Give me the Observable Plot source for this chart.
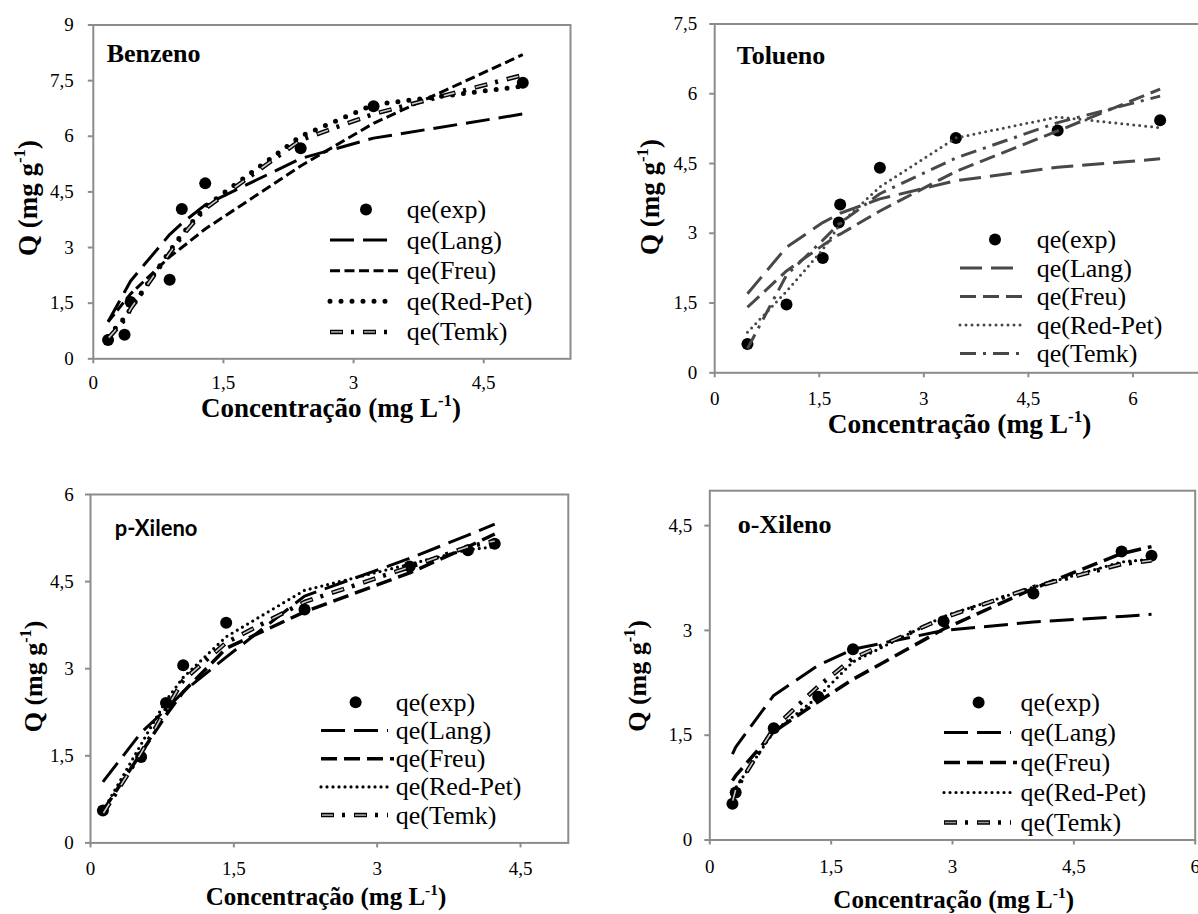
<!DOCTYPE html>
<html><head><meta charset="utf-8">
<script src="https://cdn.jsdelivr.net/npm/d3@7"></script>
<script src="https://cdn.jsdelivr.net/npm/@observablehq/plot@0.6"></script>
<style>
html,body{margin:0;padding:0;background:#fff;overflow:hidden;}
#root{position:relative;width:1198px;height:914px;overflow:hidden;background:#fff;}
#overlay{position:absolute;left:0;top:0;pointer-events:none;}
</style></head><body><div id="root"></div>
<script>
// ---------- DATA ----------
const seriesNames = ["qe(exp)", "qe(Lang)", "qe(Freu)", "qe(Red-Pet)", "qe(Temk)"];

// Benzeno
const bzC      = [0.17, 0.36, 0.43, 0.88, 1.02, 1.29, 2.39, 3.23, 4.95];
const bzExp    = [0.51, 0.65, 1.53, 2.13, 4.04, 4.73, 5.68, 6.81, 7.44];
const bzLang   = [1.0, 1.8, 2.1, 3.35, 3.65, 4.15, 5.4, 5.95, 6.6];
const bzFreu   = [1.0, 1.55, 1.75, 2.75, 3.0, 3.5, 5.2, 6.35, 8.2];
const bzRedPet = [0.6, 1.1, 1.35, 2.9, 3.35, 4.1, 6.0, 6.85, 7.35];
const bzTemk   = [0.55, 1.05, 1.35, 2.85, 3.3, 4.05, 5.9, 6.6, 7.65];

// Tolueno
const tlC      = [0.47, 1.03, 1.55, 1.78, 1.80, 2.37, 3.46, 4.92, 6.39];
const tlExp    = [0.62, 1.47, 2.47, 3.23, 3.62, 4.41, 5.05, 5.21, 5.43];
const tlLang   = [1.70, 2.70, 3.23, 3.41, 3.43, 3.74, 4.13, 4.42, 4.60];
const tlFreu   = [1.41, 2.19, 2.74, 2.97, 2.98, 3.48, 4.33, 5.2, 6.1];
const tlRedPet = [0.87, 1.75, 2.65, 3.15, 3.2, 4.0, 5.05, 5.5, 5.27];
const tlTemk   = [0.52, 2.1, 2.85, 3.2, 3.22, 3.85, 4.62, 5.38, 5.95];

// p-Xileno
const pxC      = [0.13, 0.53, 0.79, 0.97, 1.42, 2.24, 3.34, 3.95, 4.23];
const pxExp    = [0.56, 1.48, 2.41, 3.06, 3.79, 4.02, 4.76, 5.04, 5.15];
const pxLang   = [1.05, 1.9, 2.3, 2.6, 3.2, 4.25, 4.9, 5.3, 5.49];
const pxFreu   = [0.55, 1.55, 2.2, 2.6, 3.35, 3.98, 4.65, 5.1, 5.32];
const pxRedPet = [0.55, 1.7, 2.45, 2.85, 3.55, 4.35, 4.8, 5.05, 5.1];
const pxTemk   = [0.5, 1.55, 2.3, 2.8, 3.45, 4.15, 4.75, 5.1, 5.2];

// o-Xileno
const oxC      = [0.28, 0.32, 0.79, 1.34, 1.77, 2.89, 4.0, 5.09, 5.46];
const oxExp    = [0.52, 0.68, 1.60, 2.05, 2.73, 3.13, 3.53, 4.13, 4.07];
const oxLang   = [1.23, 1.33, 2.07, 2.5, 2.73, 3.0, 3.12, 3.2, 3.23];
const oxFreu   = [0.85, 0.92, 1.55, 1.98, 2.3, 3.02, 3.6, 4.1, 4.2];
const oxRedPet = [0.6, 0.75, 1.55, 2.05, 2.55, 3.2, 3.62, 3.98, 4.02];
const oxTemk   = [0.55, 0.72, 1.6, 2.2, 2.6, 3.18, 3.62, 3.95, 4.0];

// ticks
const bzXTicks = [0, 1.5, 3, 4.5];
const bzYTicks = [0, 1.5, 3, 4.5, 6, 7.5, 9];
const tlXTicks = [0, 1.5, 3, 4.5, 6];
const tlYTicks = [0, 1.5, 3, 4.5, 6, 7.5];
const pxXTicks = [0, 1.5, 3, 4.5];
const pxYTicks = [0, 1.5, 3, 4.5, 6];
const oxXTicks = [0, 1.5, 3, 4.5, 6];
const oxYTicks = [0, 1.5, 3, 4.5];

// ---------- STYLES ----------
const GRAY = "#8c8c8c";
const SERIF = "'Liberation Serif', 'Times New Roman', serif";
const fmt = d => String(d).replace(".", ",");

function blackStyles(kind) {
  if (kind === "bz") return [
    {stroke:"#000", w:3, dash:"24,9"},
    {stroke:"#000", w:3, dash:"10,4.5"},
    {stroke:"#000", w:5, dash:"0,11", cap:"round"},
    {stroke:"#000", w:4.5, dash:"13,8,3,9", inner:{stroke:"#c8c8c8", w:1.6, dash:"11,22", off:-1}}
  ];
  return [
    {stroke:"#000", w:3, dash:"24,9"},
    {stroke:"#000", w:3.5, dash:"16,7"},
    {stroke:"#000", w:3.2, dash:"0,6", cap:"round"},
    {stroke:"#000", w:4.5, dash:"13,8,3,9", inner:{stroke:"#c8c8c8", w:1.6, dash:"11,22", off:-1}}
  ];
}
const grayStyles = [
  {stroke:"#484848", w:3, dash:"22,9"},
  {stroke:"#484848", w:3, dash:"16,7"},
  {stroke:"#484848", w:3, dash:"0,6", cap:"round"},
  {stroke:"#484848", w:3, dash:"16,7,3,7"}
];

const root = document.getElementById("root");
const rows = (C, Q) => C.map((c, i) => ({c, q: Q[i]}));

function lineMarks(data, st) {
  const out = [Plot.line(data, {x:"c", y:"q", stroke: st.stroke, strokeWidth: st.w,
    strokeDasharray: st.dash, strokeLinecap: st.cap || "butt", strokeLinejoin: "round"})];
  if (st.inner) out.push(Plot.line(data, {x:"c", y:"q", stroke: st.inner.stroke, strokeWidth: st.inner.w,
    strokeDasharray: st.inner.dash, strokeDashoffset: st.inner.off, strokeLinecap:"butt"}));
  return out;
}

function makePanel(p) {
  const marks = [
    Plot.frame({stroke: GRAY, strokeWidth: 2}),
    Plot.axisX({ticks: p.xTicks, tickFormat: fmt, tickSize: 5, tickPadding: p.xPad, stroke: GRAY, strokeWidth: 2, label: null}),
    Plot.axisY({ticks: p.yTicks, tickFormat: fmt, tickSize: 5, tickPadding: p.yPad, stroke: GRAY, strokeWidth: 2, label: null}),
    Plot.dot(rows(p.C, p.exp), {x:"c", y:"q", r:6, fill:"#000", stroke:"none"})
  ];
  p.fits.forEach((Q, i) => marks.push(...lineMarks(rows(p.C, Q), p.styles[i])));
  const chart = Plot.plot({
    width: p.width, height: p.height,
    marginLeft: p.mL, marginRight: p.mR, marginTop: p.mT, marginBottom: p.mB,
    x: {domain: p.xDomain, label: null},
    y: {domain: p.yDomain, label: null},
    style: {fontFamily: SERIF, fontSize: "19px", color: "#000", background: "transparent", overflow: "visible"},
    marks
  });
  chart.style.position = "absolute";
  chart.style.left = p.left + "px";
  chart.style.top = p.top + "px";
  root.appendChild(chart);
}

const panels = [
  {name:"Benzeno", left:0, top:0, width:600, height:445, mL:92.8, mR:30, mT:24.5, mB:86.7,
   xDomain:[0,5.5], yDomain:[0,9], xTicks:bzXTicks, yTicks:bzYTicks, xPad:11.5, yPad:14.5,
   C:bzC, exp:bzExp, fits:[bzLang,bzFreu,bzRedPet,bzTemk], styles:blackStyles("bz"),
   label:{x:106.7, y:61.7, font:SERIF, size:26},
   legend:{lx0:330, lx1:392, mx:366, tx:406.7, y0:209.5, dy:30.6},
   xt:{x:331, y:417, size:27}, yt:{x:36.5, y:198, size:27}},
  {name:"Tolueno", left:600, top:0, width:680, height:445, mL:114.2, mR:43, mT:23.5, mB:72.7,
   xDomain:[0,7.5], yDomain:[0,7.5], xTicks:tlXTicks, yTicks:tlYTicks, xPad:13.8, yPad:12.5,
   C:tlC, exp:tlExp, fits:[tlLang,tlFreu,tlRedPet,tlTemk], styles:grayStyles,
   label:{x:736.7, y:64, font:SERIF, size:26},
   legend:{lx0:960, lx1:1021.7, mx:995, tx:1036.7, y0:239.5, dy:28.5},
   xt:{x:959.5, y:433, size:27.4}, yt:{x:659, y:197, size:27}},
  {name:"p-Xileno", left:0, top:450, width:600, height:464, mL:90, mR:32.2, mT:44, mB:71.6,
   xDomain:[0,5], yDomain:[0,6], xTicks:pxXTicks, yTicks:pxYTicks, xPad:13.8, yPad:11.7,
   C:pxC, exp:pxExp, fits:[pxLang,pxFreu,pxRedPet,pxTemk], styles:blackStyles("px"),
   label:{x:114.7, y:536, font:"Lato, 'Open Sans', sans-serif", size:22},
   legend:{lx0:321, lx1:388, mx:355.6, tx:395.8, y0:702.3, dy:28.2},
   xt:{x:326, y:905, size:25}, yt:{x:42, y:676.5, size:26}},
  {name:"o-Xileno", left:600, top:450, width:598, height:464, mL:109.3, mR:3.3, mT:40.2, mB:74.5,
   xDomain:[0,6], yDomain:[0,5], xTicks:oxXTicks, yTicks:oxYTicks, xPad:14.3, yPad:12.6,
   C:oxC, exp:oxExp, fits:[oxLang,oxFreu,oxRedPet,oxTemk], styles:blackStyles("ox"),
   label:{x:737.7, y:533.3, font:SERIF, size:26},
   legend:{lx0:944, lx1:1011, mx:978.6, tx:1020.6, y0:702.5, dy:30},
   xt:{x:953.7, y:908, size:25}, yt:{x:645.5, y:676, size:26}}
];

panels.forEach(makePanel);

// ---------- OVERLAY TEXT / LEGENDS ----------
const ov = d3.select(root).append("svg").attr("id","overlay").attr("width",1198).attr("height",914);

function axisTitle(x, y, size, rotate, main, sup, tail) {
  const t = ov.append("text")
    .attr("transform", rotate ? `translate(${x},${y}) rotate(-90)` : `translate(${x},${y})`)
    .attr("text-anchor","middle").attr("font-family",SERIF).attr("font-weight","bold")
    .attr("font-size",size).attr("fill","#000");
  t.append("tspan").text(main);
  t.append("tspan").attr("dy", -0.42*size).attr("font-size", size*0.62).text(sup);
  t.append("tspan").attr("dy", 0.42*size).text(tail);
}

panels.forEach(p => {
  ov.append("text").attr("x",p.label.x).attr("y",p.label.y).attr("font-family",p.label.font)
    .attr("font-weight","bold").attr("font-size",p.label.size).attr("fill","#000").text(p.name);
  axisTitle(p.xt.x, p.xt.y, p.xt.size, false, "Concentração (mg L", "-1", ")");
  axisTitle(p.yt.x, p.yt.y, p.yt.size, true, "Q (mg g", "-1", ")");
  const L = p.legend;
  seriesNames.forEach((nm, i) => {
    const y = L.y0 + i*L.dy;
    if (i === 0) {
      ov.append("circle").attr("cx",L.mx).attr("cy",y).attr("r",6).attr("fill","#000");
    } else {
      const st = p.styles[i-1];
      const x1 = (i === 2) ? L.lx1 + 6 : L.lx1;
      ov.append("line").attr("x1",L.lx0).attr("x2",x1).attr("y1",y).attr("y2",y)
        .attr("stroke",st.stroke).attr("stroke-width",st.w).attr("stroke-dasharray",st.dash)
        .attr("stroke-linecap",st.cap || "butt");
      if (st.inner) {
        ov.append("line").attr("x1",L.lx0).attr("x2",x1).attr("y1",y).attr("y2",y)
          .attr("stroke","#999").attr("stroke-width",st.inner.w).attr("stroke-dasharray",st.inner.dash)
          .attr("stroke-dashoffset",st.inner.off);
      }
    }
    ov.append("text").attr("x",L.tx).attr("y",y).attr("dy","0.33em").attr("font-family",SERIF)
      .attr("font-size",26).attr("fill","#000").text(nm);
  });
});
</script>
</body></html>
